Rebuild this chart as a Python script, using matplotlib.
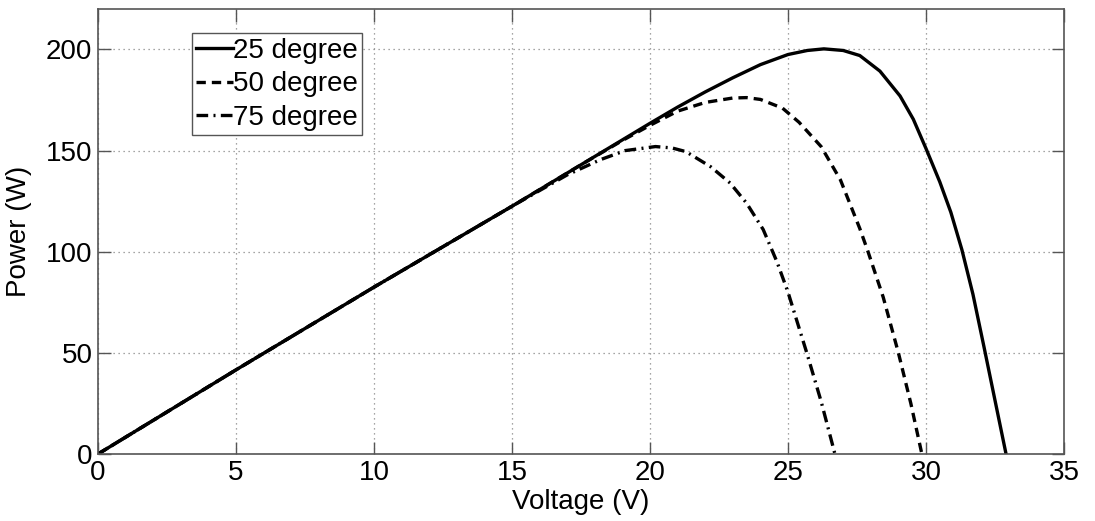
import matplotlib
matplotlib.use('Agg')
import matplotlib.pyplot as plt

# PV power curves
v_25 = [0, 5, 10, 15, 17.5, 20, 21, 22, 23, 24, 25, 25.7, 26.3, 27, 27.6, 28.33, 29.06, 29.54,
        30.0, 30.5, 30.9, 31.3, 31.7, 32.1, 32.5, 32.9]
p_25 = [0, 41.6, 82.5, 122.5, 143, 163.5, 171.5, 179, 186, 192.5, 197.5, 199.5, 200.3, 199.5, 197,
        189.3, 177, 165.5, 151, 134.5, 119.5, 101, 79, 53, 26.5, 0]

v_50 = [0, 5, 10, 15, 17.5, 19, 20, 21, 22, 23, 23.5, 24, 24.8, 25.4, 26.2, 26.9, 27.6, 27.9,
        28.45, 29.0, 29.45, 29.85]
p_50 = [0, 41.6, 82.5, 122.5, 143, 155, 162.5, 169.5, 173.8, 176, 176.2, 175.3, 171, 164, 152,
        135.5, 111.5, 100, 77.5, 50, 25, 0]

v_75 = [0, 5, 10, 15, 17, 18.2, 19.1, 20.2, 20.8, 21.3, 22.2, 22.9, 23.5, 24.1, 24.6, 25.0,
        25.68, 26.2, 26.7]
p_75 = [0, 41.6, 82.5, 122.5, 138, 145.5, 150, 152, 151.3, 149.5, 142, 134, 124, 111, 95, 80,
        50, 26, 0]

labels = ['25 degree', '50 degree', '75 degree']


def main():
    plt.rcParams['font.family'] = ['Liberation Sans', 'DejaVu Sans']

    fig = plt.figure(figsize=(10.95, 5.21), dpi=100)
    ax = fig.add_axes([0.0895, 0.1286, 0.8822, 0.8541])

    kw = dict(color='black', lw=2.4, solid_joinstyle='round', dash_joinstyle='round')
    ax.plot(v_25, p_25, ls='-', label=labels[0], **kw)
    ax.plot(v_50, p_50, ls=(0, (2.8, 1.8)), label=labels[1], **kw)
    ax.plot(v_75, p_75, ls=(0, (3.5, 1.6, 0.6, 1.6)), label=labels[2], **kw)

    ax.set_xlim(0, 35)
    ax.set_ylim(0, 220)
    ax.set_xticks(range(0, 36, 5))
    ax.set_yticks([0, 50, 100, 150, 200])

    ax.grid(True, ls=(0, (1, 3)), color='#888888', lw=0.9)
    ax.tick_params(direction='in', length=9, width=1, colors='#555555',
                   labelcolor='black', labelsize=20, top=True, right=True, pad=4)
    for s in ax.spines.values():
        s.set_color('#555555')
        s.set_linewidth(1.2)

    ax.set_xlabel('Voltage (V)', fontsize=20)
    ax.set_ylabel('Power (W)', fontsize=20)
    ax.xaxis.set_label_coords(0.5, -0.078)
    ax.yaxis.set_label_coords(-0.068, 0.5)

    leg = ax.legend(loc='upper left', bbox_to_anchor=(0.097, 0.945), fontsize=20,
                    handlelength=1.35, handletextpad=0.0, borderpad=0.15,
                    labelspacing=0.28, borderaxespad=0, fancybox=False, framealpha=1)
    leg.get_frame().set_edgecolor('#555555')
    leg.get_frame().set_linewidth(1.0)

    fig.savefig('out.png', dpi=100)


if __name__ == '__main__':
    main()
